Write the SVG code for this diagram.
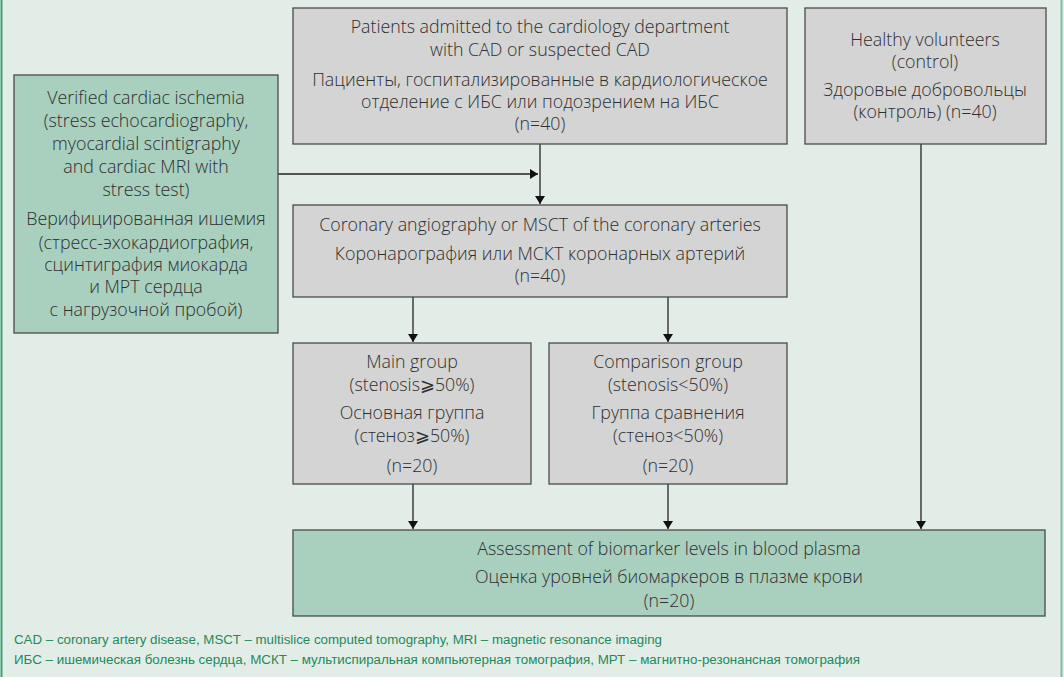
<svg xmlns="http://www.w3.org/2000/svg" width="1064" height="677" viewBox="0 0 1064 677">
<defs>
<style>
.bg{fill:#e2ede8}
.gray{fill:#d4d4d4;stroke:#4a4a4a;stroke-width:1.3}
.green{fill:#a9cfbe;stroke:#4a4a4a;stroke-width:1.3}
.t{font-family:"Open Sans","Noto Sans","DejaVu Sans",sans-serif;font-size:17.8px;fill:#2e2e2e;text-anchor:middle;font-weight:300}
.c{stroke:#222;stroke-width:1.3;fill:none;marker-end:url(#ah)}
.fn{font-family:"Liberation Sans","DejaVu Sans",sans-serif;font-size:12.5px;fill:#23895a}
</style>
<marker id="ah" viewBox="0 0 8 16" refX="8" refY="8" markerWidth="8" markerHeight="16" markerUnits="userSpaceOnUse" orient="auto">
<path d="M0,3 L8,8 L0,13 Z" fill="#111"/>
</marker>
</defs>
<rect class="bg" x="0" y="0" width="1064" height="677"/>
<line x1="1.5" y1="0" x2="1.5" y2="677" stroke="#3fa172" stroke-width="2"/>
<line x1="1061.5" y1="0" x2="1061.5" y2="677" stroke="#7fbf9f" stroke-width="2"/>

<g id="connectors">
<line class="c" x1="278" y1="174" x2="538" y2="174"/>
<line class="c" x1="540" y1="144" x2="540" y2="204"/>
<line class="c" x1="413" y1="297" x2="413" y2="342"/>
<line class="c" x1="668" y1="297" x2="668" y2="342"/>
<line class="c" x1="413" y1="484" x2="413" y2="529"/>
<line class="c" x1="668" y1="484" x2="668" y2="529"/>
<line class="c" x1="921" y1="144" x2="921" y2="529"/>
</g>

<g id="patients">
<rect class="gray" x="293" y="8" width="494" height="136"/>
<text class="t" x="540" y="33">Patients admitted to the cardiology department</text>
<text class="t" x="540" y="56">with CAD or suspected CAD</text>
<text class="t" x="540" y="86">Пациенты, госпитализированные в кардиологическое</text>
<text class="t" x="540" y="108">отделение с ИБС или подозрением на ИБС</text>
<text class="t" x="540" y="130">(n=40)</text>
</g>

<g id="healthy">
<rect class="gray" x="805" y="8" width="241" height="136"/>
<text class="t" x="925" y="46">Healthy volunteers</text>
<text class="t" x="925" y="68">(control)</text>
<text class="t" x="925" y="96">Здоровые добровольцы</text>
<text class="t" x="925" y="118">(контроль) (n=40)</text>
</g>

<g id="ischemia">
<rect class="green" x="14" y="75" width="264" height="258"/>
<text class="t" x="146" y="104">Verified cardiac ischemia</text>
<text class="t" x="146" y="127">(stress echocardiography,</text>
<text class="t" x="146" y="150">myocardial scintigraphy</text>
<text class="t" x="146" y="173">and cardiac MRI with</text>
<text class="t" x="146" y="196">stress test)</text>
<text class="t" x="146" y="225">Верифицированная ишемия</text>
<text class="t" x="146" y="249">(стресс-эхокардиография,</text>
<text class="t" x="146" y="271">сцинтиграфия миокарда</text>
<text class="t" x="146" y="293">и МРТ сердца</text>
<text class="t" x="146" y="316">с нагрузочной пробой)</text>
</g>

<g id="coronary">
<rect class="gray" x="293" y="205" width="494" height="92"/>
<text class="t" x="540" y="231">Coronary angiography or MSCT of the coronary arteries</text>
<text class="t" x="540" y="260">Коронарография или МСКТ коронарных артерий</text>
<text class="t" x="540" y="282">(n=40)</text>
</g>

<g id="main-group">
<rect class="gray" x="293" y="343" width="238" height="141"/>
<text class="t" x="412" y="368">Main group</text>
<text class="t" x="412" y="391">(stenosis⩾50%)</text>
<text class="t" x="412" y="419">Основная группа</text>
<text class="t" x="412" y="442">(стеноз⩾50%)</text>
<text class="t" x="412" y="472">(n=20)</text>
</g>

<g id="comparison-group">
<rect class="gray" x="549" y="343" width="238" height="141"/>
<text class="t" x="668" y="368">Comparison group</text>
<text class="t" x="668" y="391">(stenosis&lt;50%)</text>
<text class="t" x="668" y="419">Группа сравнения</text>
<text class="t" x="668" y="442">(стеноз&lt;50%)</text>
<text class="t" x="668" y="472">(n=20)</text>
</g>

<g id="assessment">
<rect class="green" x="293" y="530" width="752" height="86"/>
<text class="t" x="669" y="555">Assessment of biomarker levels in blood plasma</text>
<text class="t" x="669" y="583">Оценка уровней биомаркеров в плазме крови</text>
<text class="t" x="669" y="607">(n=20)</text>
</g>

<g id="footnote">
<text class="fn" x="14" y="644" textLength="648" lengthAdjust="spacingAndGlyphs">CAD – coronary artery disease, MSCT – multislice computed tomography, MRI – magnetic resonance imaging</text>
<text class="fn" x="14" y="664" textLength="846" lengthAdjust="spacingAndGlyphs">ИБС – ишемическая болезнь сердца, МСКТ – мультиспиральная компьютерная томография, МРТ – магнитно-резонансная томография</text>
</g>
</svg>
